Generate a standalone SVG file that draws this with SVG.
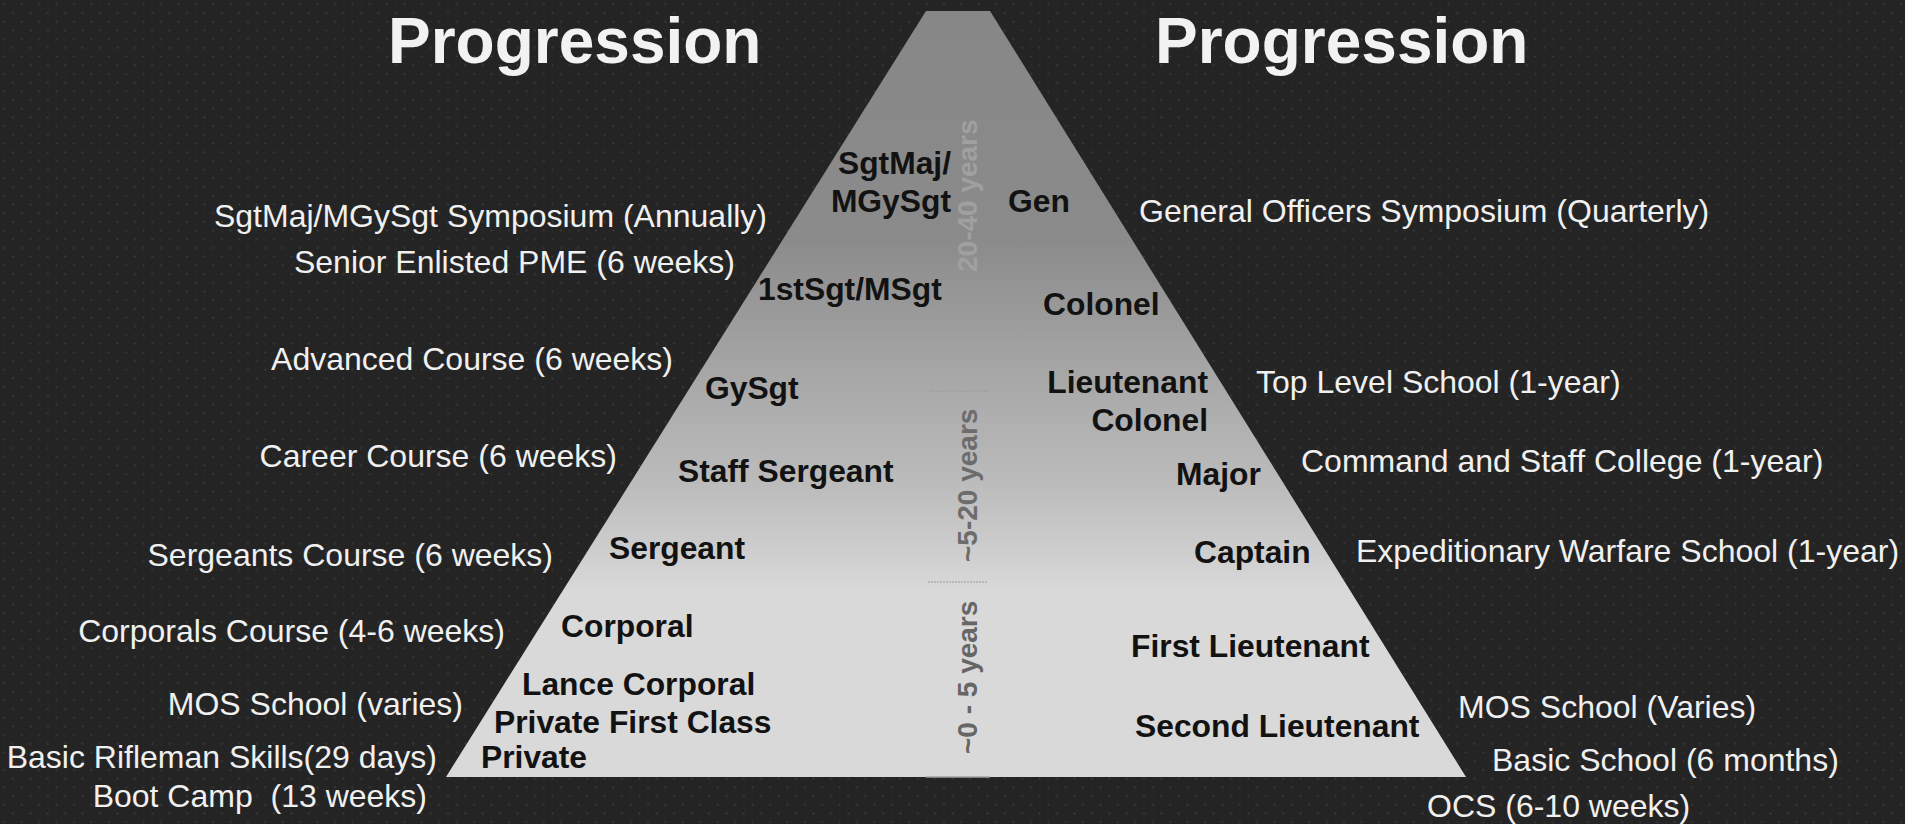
<svg xmlns="http://www.w3.org/2000/svg" width="1905" height="824" viewBox="0 0 1905 824">
<style>
.title{font-family:"Liberation Sans",Arial,sans-serif;font-weight:bold;font-size:64px;fill:#f2f2f2}
.course{font-family:"Liberation Sans",Arial,sans-serif;font-size:32px;fill:#f0f0f0}
.rank{font-family:"Liberation Sans",Arial,sans-serif;font-weight:bold;font-size:31.8px;fill:#121212}
.years{font-family:"Liberation Sans",Arial,sans-serif;font-weight:bold;font-size:28px}
.sep{stroke:#9a9a9a;stroke-width:1;stroke-dasharray:2 1;fill:none}
.end{text-anchor:end}
</style>
<defs>
<pattern id="dots" width="17.4" height="17.4" patternUnits="userSpaceOnUse">
<rect width="17.4" height="17.4" fill="#242424"/>
<circle cx="4.35" cy="4.35" r="1" fill="#3e3e3e"/>
<circle cx="13.05" cy="13.05" r="1" fill="#3e3e3e"/>
<circle cx="13.05" cy="4.35" r="0.8" fill="#323232"/>
<circle cx="4.35" cy="13.05" r="0.8" fill="#323232"/>
</pattern>
<linearGradient id="pyr" gradientUnits="userSpaceOnUse" x1="0" y1="11" x2="0" y2="777">
<stop offset="0" stop-color="#878787"/>
<stop offset="0.3" stop-color="#8b8b8b"/>
<stop offset="0.45" stop-color="#a3a3a3"/>
<stop offset="0.62" stop-color="#bcbcbc"/>
<stop offset="0.74" stop-color="#d5d5d5"/>
<stop offset="0.76" stop-color="#d9d9d9"/>
<stop offset="1" stop-color="#d9d9d9"/>
</linearGradient>
</defs>
<rect width="1905" height="824" fill="url(#dots)"/>

<g id="pyramid">
<polygon points="926,11 990,11 1466,777 446,777" fill="url(#pyr)"/>
<line class="sep" x1="930" y1="391" x2="990" y2="391"/>
<line class="sep" x1="928" y1="582" x2="988" y2="582"/>
<line x1="926" y1="777" x2="990" y2="777" stroke="#a0a0a0" stroke-width="1.5"/>
</g>

<g id="titles">
<text class="title" x="388" y="63">Progression</text>
<text class="title" x="1155" y="63">Progression</text>
</g>

<g id="year-bands">
<text class="years" transform="translate(977,272) rotate(-90)" fill="#a0a0a0">20-40 years</text>
<text class="years" transform="translate(977,562) rotate(-90)" fill="#6c6c6c">~5-20 years</text>
<text class="years" transform="translate(977,754) rotate(-90)" fill="#666666">~0 - 5 years</text>
</g>

<g id="enlisted-ranks">
<g id="rank-sgtmaj"><text class="rank end" x="951" y="174">SgtMaj/</text><text class="rank end" x="951" y="212">MGySgt</text></g>
<g id="rank-1stsgt"><text class="rank" x="758" y="300">1stSgt/MSgt</text></g>
<g id="rank-gysgt"><text class="rank" x="705" y="399">GySgt</text></g>
<g id="rank-ssgt"><text class="rank" x="678" y="482">Staff Sergeant</text></g>
<g id="rank-sgt"><text class="rank" x="609" y="559">Sergeant</text></g>
<g id="rank-cpl"><text class="rank" x="561" y="637">Corporal</text></g>
<g id="rank-lcpl"><text class="rank" x="522" y="695">Lance Corporal</text></g>
<g id="rank-pfc"><text class="rank" x="494" y="733">Private First Class</text></g>
<g id="rank-pvt"><text class="rank" x="481" y="768">Private</text></g>
</g>

<g id="officer-ranks">
<g id="rank-gen"><text class="rank" x="1008" y="212">Gen</text></g>
<g id="rank-col"><text class="rank" x="1043" y="315">Colonel</text></g>
<g id="rank-ltcol"><text class="rank end" x="1208" y="393">Lieutenant</text><text class="rank end" x="1208" y="431">Colonel</text></g>
<g id="rank-maj"><text class="rank" x="1176" y="485">Major</text></g>
<g id="rank-capt"><text class="rank" x="1194" y="563">Captain</text></g>
<g id="rank-1stlt"><text class="rank" x="1131" y="657">First Lieutenant</text></g>
<g id="rank-2ndlt"><text class="rank" x="1135" y="737">Second Lieutenant</text></g>
</g>

<g id="enlisted-courses">
<g id="course-symposium-enl"><text class="course end" x="767" y="227">SgtMaj/MGySgt Symposium (Annually)</text></g>
<g id="course-senior-pme"><text class="course end" x="735" y="273">Senior Enlisted PME (6 weeks)</text></g>
<g id="course-advanced"><text class="course end" x="673" y="370">Advanced Course (6 weeks)</text></g>
<g id="course-career"><text class="course end" x="617" y="467">Career Course (6 weeks)</text></g>
<g id="course-sergeants"><text class="course end" x="553" y="566">Sergeants Course (6 weeks)</text></g>
<g id="course-corporals"><text class="course end" x="505" y="642">Corporals Course (4-6 weeks)</text></g>
<g id="course-mos-enl"><text class="course end" x="463" y="715">MOS School (varies)</text></g>
<g id="course-brs"><text class="course end" x="437" y="768">Basic Rifleman Skills(29 days)</text></g>
<g id="course-boot"><text class="course end" x="427" y="807" xml:space="preserve">Boot Camp  (13 weeks)</text></g>
</g>

<g id="officer-courses">
<g id="course-symposium-off"><text class="course" x="1139" y="222">General Officers Symposium (Quarterly)</text></g>
<g id="course-tls"><text class="course" x="1256" y="393">Top Level School (1-year)</text></g>
<g id="course-csc"><text class="course" x="1301" y="472">Command and Staff College (1-year)</text></g>
<g id="course-ews"><text class="course" x="1356" y="562">Expeditionary Warfare School (1-year)</text></g>
<g id="course-mos-off"><text class="course" x="1458" y="718">MOS School (Varies)</text></g>
<g id="course-tbs"><text class="course" x="1492" y="771">Basic School (6 months)</text></g>
<g id="course-ocs"><text class="course" x="1427" y="817">OCS (6-10 weeks)</text></g>
</g>
</svg>
